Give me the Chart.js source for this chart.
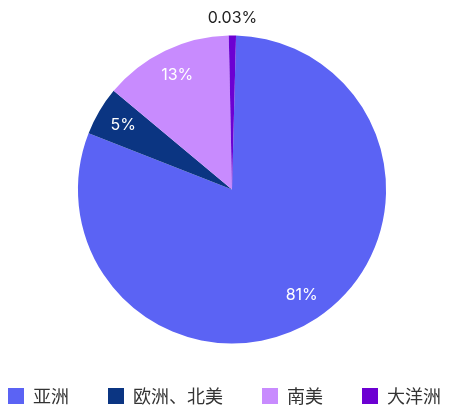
<!DOCTYPE html>
<html><head><meta charset="utf-8">
<script src="https://cdn.jsdelivr.net/npm/chart.js@4/dist/chart.umd.min.js"></script>
<style>html,body{margin:0;padding:0;background:#fff}canvas{display:block}</style>
</head><body>
<canvas id="c" width="464" height="420"></canvas>
<script>
const categories = ['亚洲', '欧洲、北美', '南美', '大洋洲'];
const shares = [80.5, 5.1, 13.6, 0.75];
const shareLabels = ['81%', '5%', '13%', '0.03%'];
const colors = ['#5B63F4', '#0B3582', '#C88BFE', '#6C00D2'];

const sliceLabels = {
  id: 'sliceLabels',
  afterDatasetsDraw(chart) {
    const ctx = chart.ctx;
    const meta = chart.getDatasetMeta(0);
    ctx.save();
    ctx.font = '16px Inter';
    ctx.textAlign = 'center';
    ctx.textBaseline = 'middle';
    meta.data.forEach((arc, i) => {
      const p = arc.getProps(['startAngle', 'endAngle', 'outerRadius', 'x', 'y'], true);
      const mid = (p.startAngle + p.endAngle) / 2;
      const small = (p.endAngle - p.startAngle) < 0.2;
      const r = small ? p.outerRadius + 17.5 : p.outerRadius * 0.82;
      ctx.fillStyle = small ? '#222222' : '#ffffff';
      ctx.fillText(shareLabels[i], p.x + Math.cos(mid) * r, p.y + Math.sin(mid) * r);
    });
    ctx.restore();
  }
};

new Chart(document.getElementById('c'), {
  type: 'pie',
  data: {
    labels: categories,
    datasets: [{
      data: shares,
      backgroundColor: colors,
      borderWidth: 0,
      hoverOffset: 0
    }]
  },
  options: {
    responsive: false,
    animation: false,
    rotation: 1.5,
    radius: '97.2%',
    layout: { padding: { top: 31, bottom: 5, left: -31, right: -31 } },
    plugins: {
      tooltip: { enabled: false },
      legend: {
        position: 'bottom',
        align: 'start',
        labels: {
          boxWidth: 16,
          boxHeight: 16,
          padding: 39,
          color: '#333333',
          font: { family: '"Noto Sans CJK SC"', size: 18 }
        }
      }
    }
  },
  plugins: [sliceLabels]
});
</script>
</body></html>
